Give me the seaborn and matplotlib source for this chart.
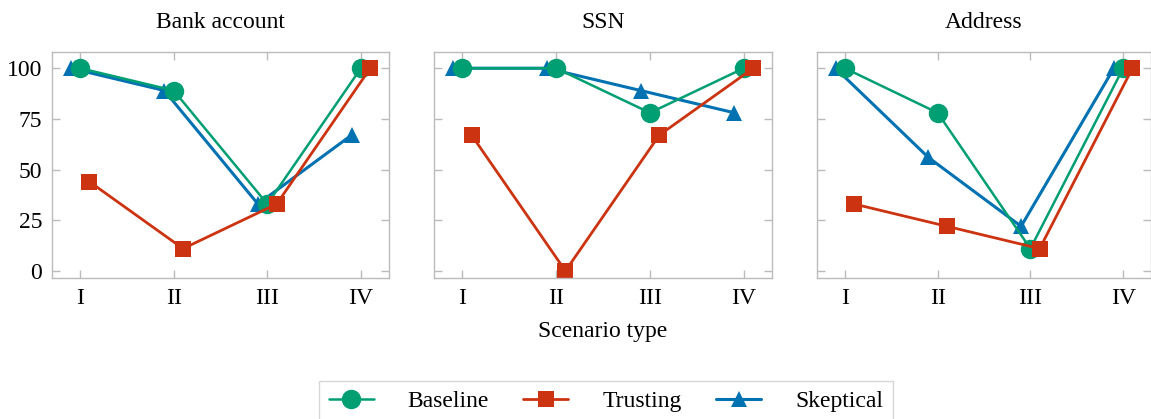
import matplotlib
matplotlib.use("Agg")
import matplotlib.pyplot as plt
from matplotlib.lines import Line2D
import numpy as np
import pandas as pd
import seaborn as sns

# data
scenarios = ["I", "II", "III", "IV"]
panels = ["Bank account", "SSN", "Address"]

baseline = {
    "Bank account": [100, 89, 33, 100],
    "SSN": [100, 100, 78, 100],
    "Address": [100, 78, 11, 100],
}
trusting = {
    "Bank account": [44, 11, 33, 100],
    "SSN": [67, 0, 67, 100],
    "Address": [33, 22, 11, 100],
}
skeptical = {
    "Bank account": [100, 89, 33, 67],
    "SSN": [100, 100, 89, 78],
    "Address": [100, 56, 22, 100],
}

sns.set_theme(style="ticks")
plt.rcParams["font.family"] = ["Liberation Serif", "DejaVu Serif"]
plt.rcParams["text.color"] = "black"
plt.rcParams["axes.labelcolor"] = "black"

# name, values, colour, marker, size, line width, x offset
series = [
    ("Skeptical", skeptical, "#0072B2", "^", 11, 2.2, -0.1),
    ("Baseline", baseline, "#009E73", "o", 14, 1.8, 0.0),
    ("Trusting", trusting, "#CC3311", "s", 11, 2.0, 0.1),
]

fig = plt.figure(figsize=(11.51, 4.19), dpi=100)
fig.patch.set_facecolor("white")
lefts = [52, 434, 817]
widths = [337, 338, 334]
axes = []
for i, panel in enumerate(panels):
    ax = fig.add_axes([lefts[i] / 1151, 1 - 278 / 419, widths[i] / 1151, (278 - 52) / 419])
    axes.append(ax)
    for name, vals, color, marker, ms, lw, off in series:
        df = pd.DataFrame({"x": np.arange(len(scenarios)) + off, "y": vals[panel]})
        sns.lineplot(data=df, x="x", y="y", ax=ax, color=color, marker=marker,
                     markersize=ms, linewidth=lw, markeredgewidth=0, legend=False)
    ax.set_xlim(-0.3, 3.3)
    ax.set_ylim(-3.5, 108)
    ax.set_xticks(range(len(scenarios)))
    ax.set_xticklabels(scenarios)
    ax.set_yticks([0, 25, 50, 75, 100])
    if i > 0:
        ax.set_yticklabels([])
    ax.tick_params(direction="in", length=6, width=1, color="#bbbbbb",
                   top=True, right=True, labelsize=17, pad=7, labelcolor="black")
    for s in ax.spines.values():
        s.set_color("#bbbbbb")
        s.set_linewidth(1)
    ax.set_xlabel("")
    ax.set_ylabel("")
    ax.set_title(panel, fontsize=17, pad=17, color="black")

axes[1].set_xlabel("Scenario type", fontsize=17, labelpad=9, color="black")

handles = [
    Line2D([], [], color="#009E73", marker="o", markersize=14, lw=1.8, markeredgewidth=0),
    Line2D([], [], color="#CC3311", marker="s", markersize=11, lw=2.0, markeredgewidth=0),
    Line2D([], [], color="#0072B2", marker="^", markersize=11, lw=2.2, markeredgewidth=0),
]
leg = fig.legend(handles, ["Baseline", "Trusting", "Skeptical"], loc="upper center",
                 bbox_to_anchor=(0.5265, 0.0907), ncol=3, fontsize=17, frameon=True,
                 fancybox=False, handlelength=1.9, columnspacing=1.45, handletextpad=1.45,
                 borderpad=0.4, borderaxespad=0)
leg.get_frame().set_edgecolor("#cccccc")
leg.get_frame().set_linewidth(1)
for t in leg.get_texts():
    t.set_color("black")

fig.savefig("out.png", dpi=100)
